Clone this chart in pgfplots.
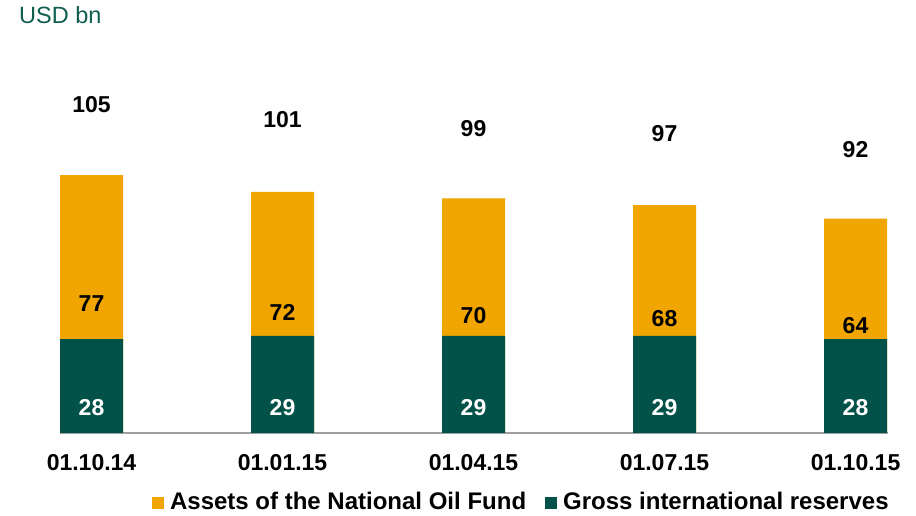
\documentclass[border=0pt]{standalone}
\usepackage{pgfplots}
\pgfplotsset{compat=1.18}
\usepackage{fontspec}
\setmainfont{Liberation Sans}
\definecolor{oilfund}{HTML}{F0A500}
\definecolor{reserves}{HTML}{03524A}
\definecolor{unitgreen}{HTML}{0E5E50}
\newcommand\lbl{\fontsize{23}{27}\selectfont\bfseries}

\begin{document}
\begin{tikzpicture}
\useasboundingbox (0,0) rectangle (916pt,516pt);
\node[anchor=base west, inner sep=0pt, text=unitgreen, font=\fontsize{23.5}{27}\selectfont] at (19pt,492pt) {USD bn};
\begin{axis}[
  at={(60pt,83pt)}, anchor=south west, scale only axis,
  width=828pt, height=393pt,
  xmin=-0.165, xmax=4.17, ymin=0, ymax=117.3,
  axis x line*=bottom, axis y line=none,
  x axis line style={-, draw=black!38, line width=1.6pt},
  xtick={0,1,2,3,4},
  xticklabels={01.10.14,01.01.15,01.04.15,01.07.15,01.10.15},
  xtick style={draw=none},
  xticklabel style={font=\lbl, anchor=base, yshift=-38pt, inner sep=0pt},
  ytick=\empty,
  bar width=63pt,
  legend columns=2,
  legend style={draw=none, at={(1.001,-0.1756)}, anchor=east, inner sep=0pt,
    font=\fontsize{24}{28}\selectfont\bfseries,
    nodes={inner sep=0pt},
    /tikz/every even column/.append style={column sep=19pt}},
  legend image code/.code={\fill[#1] (0pt,-7pt) rectangle (12pt,5pt); \path (18pt,0pt);},
]
% orange bar drawn full height, green bar in front of it
\addplot[ybar, fill=oilfund, draw=none] coordinates {(0,77) (1,72) (2,70) (3,68) (4,64)};
\addlegendentry{Assets of the National Oil Fund}
\addplot[ybar, fill=reserves, draw=none] coordinates {(0,28) (1,29) (2,29) (3,29) (4,28)};
\addlegendentry{Gross international reserves}

% labels
\addplot[draw=none, forget plot, nodes near coords, point meta=explicit symbolic,
  every node near coord/.style={anchor=center, font=\lbl, text=black}]
  coordinates {(0,38.5)[77] (1,36)[72] (2,35)[70] (3,34)[68] (4,32)[64]};
\addplot[draw=none, forget plot, nodes near coords, point meta=explicit symbolic,
  every node near coord/.style={anchor=center, font=\lbl, text=white}]
  coordinates {(0,7.5)[28] (1,7.5)[29] (2,7.5)[29] (3,7.5)[29] (4,7.5)[28]};
\addplot[draw=none, forget plot, nodes near coords, point meta=explicit symbolic,
  every node near coord/.style={anchor=center, font=\lbl, text=black}]
  coordinates {(0,98)[105] (1,93.4)[101] (2,91)[99] (3,89.5)[97] (4,84.5)[92]};
\end{axis}
\end{tikzpicture}
\end{document}
